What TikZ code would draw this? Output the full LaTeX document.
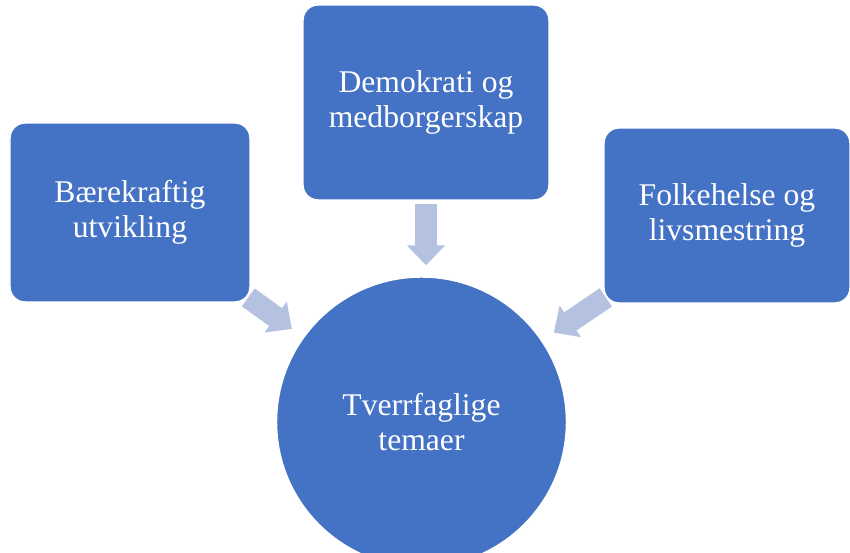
\documentclass[tikz,border=0pt]{standalone}
\usepackage{fontspec}
\setmainfont{Liberation Serif}
\usepackage{tikz}
\usetikzlibrary{shapes,positioning,calc}
\usetikzlibrary{arrows.meta}
\definecolor{blaa}{RGB}{68,114,196}
\definecolor{lysblaa}{RGB}{180,193,225}
\tikzstyle{tema} = [rectangle, rounded corners=0.3cm, fill=blaa, draw=white, line width=0.8pt,
text=white, align=center, font=\fontsize{18}{20}\selectfont]
\tikzstyle{sentrum} = [circle, minimum size=5.8cm, fill=blaa, draw=white, line width=0.8pt,
text=white, align=center, font=\fontsize{18}{20}\selectfont]
\tikzstyle{pil} = [draw=lysblaa, line width=0.44cm, -{Triangle[length=0.4cm,width=0.74cm]}]

\begin{document}
\begin{tikzpicture}[x=0.02cm,y=-0.02cm]
	\useasboundingbox (0,0) rectangle (850,553);
	\node (midt) at (421.5,422) [sentrum] {Tverrfaglige\\temaer};
	\node (venstre) at (130,212.5) [tema, minimum width=4.8cm, minimum height=3.58cm] {Bærekraftig\\utvikling};
	\node (topp) at (426,102.5) [tema, minimum width=4.92cm, minimum height=3.9cm] {Demokrati og\\medborgerskap};
	\node (hoyre) at (727,215.5) [tema, minimum width=4.92cm, minimum height=3.5cm] {Folkehelse og\\livsmestring};
	\draw[pil, shorten <=-0.06cm, shorten >=0.28cm] (venstre) -- (midt);
	\draw[pil, shorten <=0.06cm, shorten >=0.22cm] (topp.south) -- (topp.south |- midt.north);
	\draw[pil, shorten <=-0.06cm, shorten >=0.28cm] (hoyre) -- (midt);
\end{tikzpicture}
\end{document}
